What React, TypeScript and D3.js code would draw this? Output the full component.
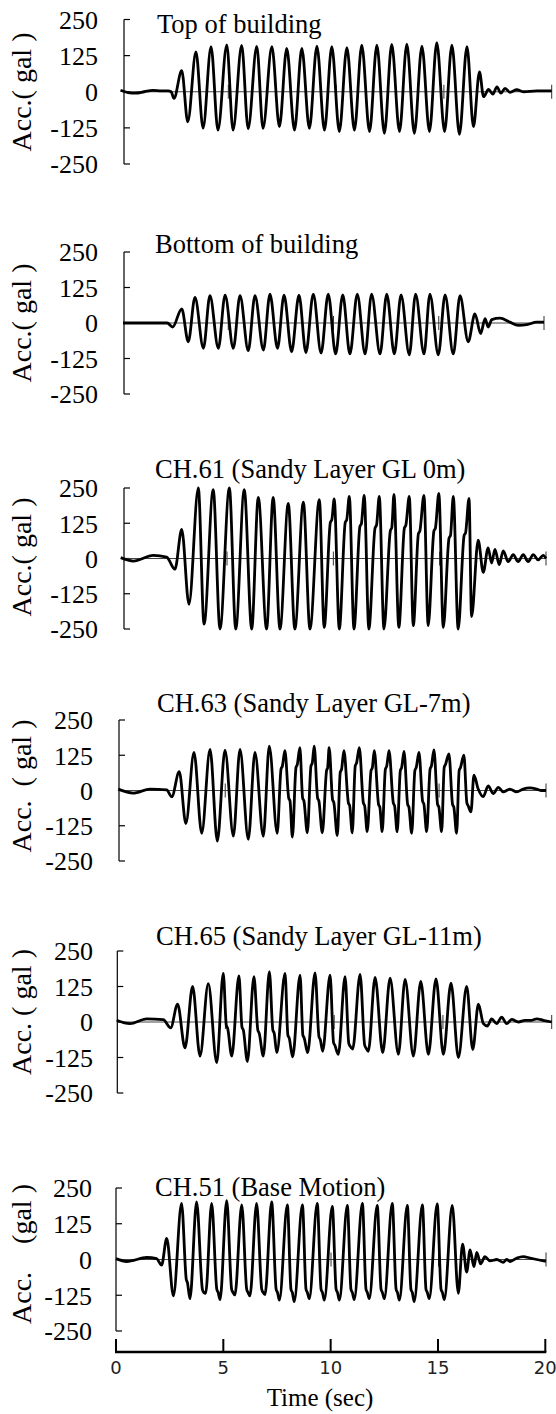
import * as d3 from "d3";

type Pt = [number, number];

const W = 556;
const H = 1414;

const yTicks = [250, 125, 0, -125, -250];
const timeTicks = [0, 5, 10, 15, 20];
const zeroLineTicks = [5, 10, 15, 20];

const titles = [
  "Top of building",
  "Bottom of building",
  "CH.61 (Sandy Layer GL 0m)",
  "CH.63 (Sandy Layer GL-7m)",
  "CH.65 (Sandy Layer GL-11m)",
  "CH.51 (Base Motion)",
];

const yLabels = [
  "Acc.( gal )",
  "Acc.( gal )",
  "Acc.( gal )",
  "Acc.\u00a0\u00a0( gal )",
  "Acc. ( gal )",
  "Acc.\u00a0\u00a0\u00a0\u00a0(gal )",
];

// [time (sec), acceleration (gal)]
const topOfBuilding: Pt[] = [
  [0, 5], [0.35, -3], [0.7, -5], [1.1, 0], [1.5, 5], [1.9, 3], [2.2, 3], [2.35, 0], [2.48, -23],
  [2.84, 73], [3.12, -104], [3.5, 138], [3.83, -126], [4.2, 156], [4.52, -133], [4.93, 162],
  [5.22, -133], [5.62, 160], [5.92, -128], [6.32, 157], [6.61, -127], [7.02, 156], [7.37, -121],
  [7.71, 150], [8.07, -133], [8.41, 150], [8.76, -127], [9.11, 158], [9.46, -133], [9.8, 156],
  [10.15, -138], [10.5, 153], [10.85, -133], [11.19, 161], [11.55, -138], [11.89, 161],
  [12.24, -144], [12.58, 164], [12.94, -138], [13.28, 165], [13.63, -144], [13.98, 158],
  [14.33, -138], [14.67, 170], [15.03, -138], [15.37, 161], [15.72, -147], [16.07, 156],
  [16.37, -121], [16.65, 69], [16.84, -17], [17.07, 8], [17.27, -8], [17.46, 17], [17.64, -5],
  [17.84, 12], [18.07, -2], [18.38, 7], [18.69, 0], [19.31, 3], [20, 3],
];

const bottomOfBuilding: Pt[] = [
  [0, 0], [2.1, 0], [2.36, -14], [2.79, 50], [3.1, -66], [3.42, 90], [3.82, -89], [4.13, 96],
  [4.53, -89], [4.85, 98], [5.24, -89], [5.56, 96], [5.95, -97], [6.27, 96], [6.67, -95],
  [6.98, 102], [7.34, -89], [7.65, 98], [8.01, -101], [8.36, 98], [8.69, -104], [9.04, 102],
  [9.41, -106], [9.75, 102], [10.1, -109], [10.44, 99], [10.78, -109], [11.13, 102],
  [11.5, -109], [11.81, 102], [12.21, -109], [12.53, 102], [12.89, -109], [13.21, 99],
  [13.6, -112], [13.9, 102], [14.3, -109], [14.58, 102], [14.98, -112], [15.3, 99],
  [15.69, -109], [16.01, 96], [16.4, -66], [16.72, 32], [16.99, -37], [17.2, 15], [17.35, -14],
  [17.52, 12], [17.91, 17], [18.38, 3], [18.78, -8], [19.18, -6], [19.65, 3], [20, 3],
];

const ch61: Pt[] = [
  [0, 3], [0.59, -9], [1.53, 11], [2.16, 5], [2.55, -38], [2.87, 103], [3.21, -162], [3.65, 250],
  [3.92, -233], [4.35, 244], [4.67, -250], [5.11, 250], [5.41, -250], [5.81, 244], [6.16, -250],
  [6.47, 217], [6.86, -250], [7.17, 217], [7.49, -250], [7.88, 195], [8.19, -250], [8.59, 200],
  [8.9, -250], [9.34, 209], [9.57, -244], [9.86, 128], [9.93, 138], [10.04, 211], [10.28, -250],
  [10.56, 128], [10.63, 138], [10.75, 220], [10.97, -250], [11.25, 114], [11.32, 124],
  [11.45, 224], [11.67, -250], [11.96, 108], [12.03, 118], [12.16, 220], [12.38, -250],
  [12.68, 98], [12.75, 110], [12.85, 227], [13.08, -244], [13.34, 108], [13.41, 118],
  [13.57, 220], [13.76, -238], [14.0, 88], [14.07, 98], [14.26, 224], [14.46, -238],
  [14.73, 98], [14.8, 108], [14.96, 231], [15.17, -244], [15.44, 72], [15.51, 82], [15.64, 220],
  [15.87, -250], [16.15, 82], [16.22, 92], [16.38, 213], [16.5, -206], [16.81, 65], [17.05, -49],
  [17.28, 38], [17.44, -16], [17.6, 32], [17.8, -22], [17.99, 27], [18.22, -11], [18.46, 14],
  [18.69, -11], [18.93, 14], [19.16, -11], [19.4, 14], [19.63, -5], [19.87, 11], [20, 0],
];

const ch63: Pt[] = [
  [0, 5], [0.7, -9], [1.48, 5], [2.26, 2], [2.5, -22], [2.85, 67], [3.16, -117], [3.54, 135],
  [3.9, -152], [4.29, 146], [4.63, -179], [4.99, 143], [5.38, -162], [5.69, 146], [6.08, -173],
  [6.39, 135], [6.78, -162], [7.06, 157], [7.43, -152], [7.61, 76], [7.67, 86], [7.79, 141],
  [7.97, -27], [8.03, -37], [8.14, -165], [8.31, 82], [8.37, 92], [8.49, 152], [8.62, -27],
  [8.68, -37], [8.84, -150], [9.01, 87], [9.07, 97], [9.16, 157], [9.32, -27], [9.38, -37],
  [9.54, -150], [9.74, 71], [9.79, 81], [9.86, 152], [10.02, -33], [10.08, -43], [10.24, -160],
  [10.38, 65], [10.44, 75], [10.55, 141], [10.76, -44], [10.82, -54], [10.94, -150],
  [11.08, 87], [11.14, 97], [11.27, 152], [11.46, -44], [11.52, -54], [11.64, -146],
  [11.82, 71], [11.88, 81], [11.97, 141], [12.17, -49], [12.23, -59], [12.34, -146],
  [12.49, 76], [12.55, 86], [12.66, 141], [12.86, -44], [12.92, -54], [13.04, -146],
  [13.19, 71], [13.25, 81], [13.36, 139], [13.53, -49], [13.59, -59], [13.72, -152],
  [13.87, 71], [13.93, 81], [14.06, 135], [14.23, -38], [14.29, -48], [14.42, -146],
  [14.58, 76], [14.64, 86], [14.76, 144], [14.93, -49], [14.99, -59], [15.12, -146],
  [15.24, 82], [15.3, 92], [15.46, 130], [15.63, -49], [15.69, -59], [15.82, -152],
  [15.94, 71], [16.0, 81], [16.16, 125], [16.3, -44], [16.36, -54], [16.49, -76], [16.63, 54],
  [16.83, 5], [17.06, -22], [17.3, 16], [17.53, -11], [17.77, 11], [18.0, -5], [18.31, 5],
  [18.63, -5], [18.93, 5], [19.25, 9], [19.56, 5], [19.79, 0], [20, 0],
];

const ch65: Pt[] = [
  [0, 6], [0.61, -6], [1.38, 11], [2.14, 8], [2.48, -21], [2.8, 63], [3.14, -91], [3.49, 125],
  [3.83, -120], [4.21, 135], [4.6, -143], [4.9, 171], [5.04, -12], [5.1, -22], [5.29, -120],
  [5.62, 162], [5.76, -18], [5.82, -28], [6.01, -139], [6.31, 160], [6.49, -29], [6.55, -39],
  [6.74, -120], [7.02, 177], [7.18, -29], [7.24, -39], [7.36, -108], [7.74, 171], [7.87, -46],
  [7.93, -56], [8.09, -123], [8.43, 165], [8.56, -46], [8.62, -56], [8.78, -108], [9.12, 173],
  [9.3, -52], [9.36, -62], [9.47, -103], [9.81, 165], [9.97, -72], [10.03, -82], [10.19, -114],
  [10.5, 160], [10.67, -75], [10.73, -85], [10.85, -95], [11.19, 168], [11.4, -81], [11.46, -91],
  [11.57, -103], [11.88, 157], [12.23, -108], [12.57, 154], [12.95, -114], [13.26, 150],
  [13.64, -120], [13.98, 143], [14.33, -114], [14.68, 152], [15.02, -114], [15.37, 137],
  [15.71, -125], [16.09, 125], [16.37, -97], [16.63, 63], [16.86, -6], [17.04, -14], [17.24, 11],
  [17.47, -6], [17.7, 17], [17.93, -6], [18.16, 9], [18.47, 0], [18.77, 6], [19.08, 6],
  [19.31, 11], [19.61, 6], [20, 0],
];

const ch51: Pt[] = [
  [0, 3], [0.5, -7], [1.43, 7], [1.89, 3], [2.12, -20], [2.36, 74], [2.67, -127], [3.05, 196],
  [3.27, -70], [3.32, -80], [3.44, -137], [3.75, 201], [4.02, -105], [4.08, -115], [4.17, -118],
  [4.45, 196], [4.69, -105], [4.75, -115], [4.84, -140], [5.15, 206], [5.38, -105], [5.44, -115],
  [5.53, -124], [5.85, 191], [6.08, -105], [6.14, -115], [6.23, -127], [6.54, 196], [6.78, -105],
  [6.84, -115], [6.93, -123], [7.24, 201], [7.45, -105], [7.51, -115], [7.6, -142], [7.97, 191],
  [8.14, -105], [8.2, -115], [8.29, -147], [8.67, 191], [8.84, -105], [8.9, -115], [8.99, -137],
  [9.36, 196], [9.54, -105], [9.6, -115], [9.69, -142], [10.06, 186], [10.24, -105],
  [10.3, -115], [10.39, -142], [10.76, 189], [10.93, -105], [10.99, -115], [11.08, -140],
  [11.46, 196], [11.63, -105], [11.69, -115], [11.78, -137], [12.15, 189], [12.33, -105],
  [12.39, -115], [12.48, -137], [12.85, 196], [13.03, -105], [13.09, -115], [13.18, -142],
  [13.55, 189], [13.72, -105], [13.78, -115], [13.87, -147], [14.25, 191], [14.42, -105],
  [14.48, -115], [14.57, -137], [14.94, 194], [15.12, -105], [15.18, -115], [15.27, -140],
  [15.64, 189], [15.92, -118], [16.12, 54], [16.31, -44], [16.47, 34], [16.65, -25], [16.78, 25],
  [16.96, -15], [17.16, 10], [17.4, -5], [17.71, 0], [18.01, -10], [18.17, 0], [18.33, -7],
  [18.64, 5], [18.94, 10], [19.26, 5], [19.57, 0], [20, -7],
];

const series = [topOfBuilding, bottomOfBuilding, ch61, ch63, ch65, ch51];

// pixel placement of each stacked panel
const layout = [
  { top: 19.5, bottom: 164, x0: 120.5, x1: 551.7, axisX: 124, titleX: 157, titleY: 33, labelY: 92, tickRight: 98 },
  { top: 252, bottom: 394, x0: 123, x1: 544, axisX: 124, titleX: 155, titleY: 253, labelY: 323, tickRight: 98 },
  { top: 488, bottom: 629, x0: 120.7, x1: 546, axisX: 124, titleX: 155, titleY: 478, labelY: 557, tickRight: 98 },
  { top: 720, bottom: 861, x0: 118.3, x1: 546, axisX: 119, titleX: 157, titleY: 712, labelY: 786, tickRight: 93 },
  { top: 951, bottom: 1093, x0: 116.7, x1: 551.7, axisX: 117.3, titleX: 156, titleY: 945, labelY: 1012, tickRight: 93 },
  { top: 1188, bottom: 1331, x0: 116, x1: 546, axisX: 116, titleX: 155, titleY: 1196, labelY: 1254, tickRight: 92 },
];

const serif = "Liberation Serif, Times New Roman, serif";

export default function App() {
  const timeScale = d3.scaleLinear().domain([0, 20]).range([116, 545.3]);
  const axisY = 1352;

  return (
    <svg
      width={W}
      height={H}
      style={{ position: "absolute", left: 0, top: 0, background: "#fff" }}
    >
      {series.map((data, i) => {
        const p = layout[i];
        const x = d3.scaleLinear().domain([0, 20]).range([p.x0, p.x1]);
        const y = d3.scaleLinear().domain([-250, 250]).range([p.bottom, p.top]);
        const line = d3
          .line<Pt>()
          .x((d) => x(d[0]))
          .y((d) => y(d[1]))
          .curve(d3.curveMonotoneX);
        return (
          <g key={i} fontFamily={serif}>
            <line x1={p.axisX} x2={p.axisX} y1={y(250)} y2={y(-250)} stroke="#000" strokeWidth={1.2} />
            {yTicks.map((v) => (
              <line key={v} x1={p.axisX} x2={p.axisX + 6} y1={y(v)} y2={y(v)} stroke="#000" strokeWidth={1.2} />
            ))}
            {yTicks.map((v) => (
              <text key={v} x={p.tickRight} y={y(v)} dy="0.36em" textAnchor="end" fontSize={26}>
                {v}
              </text>
            ))}
            <line x1={p.axisX} x2={x(20)} y1={y(0)} y2={y(0)} stroke="#444" strokeWidth={1} />
            {zeroLineTicks.map((t) => (
              <line key={t} x1={x(t)} x2={x(t)} y1={y(0) - 7} y2={y(0) + 7} stroke="#333" strokeWidth={1} />
            ))}
            <path d={line(data) ?? ""} fill="none" stroke="#000" strokeWidth={2.8} strokeLinejoin="round" />
            <text x={p.titleX} y={p.titleY} fontSize={26.5}>
              {titles[i]}
            </text>
            <text
              transform={`translate(31,${p.labelY}) rotate(-90)`}
              textAnchor="middle"
              fontSize={28}
            >
              {yLabels[i]}
            </text>
          </g>
        );
      })}

      <line x1={timeScale(0) - 1} x2={timeScale(20) + 1} y1={axisY} y2={axisY} stroke="#000" strokeWidth={2.5} />
      {timeTicks.map((t) => (
        <g key={t}>
          <line x1={timeScale(t)} x2={timeScale(t)} y1={axisY} y2={axisY - 13} stroke="#000" strokeWidth={2} />
          <text
            x={timeScale(t)}
            y={axisY + 16}
            dy="0.36em"
            textAnchor="middle"
            fontSize={18}
            fontFamily="DejaVu Sans, sans-serif"
            fill="#222"
          >
            {t}
          </text>
        </g>
      ))}
      <text x={320} y={1406} textAnchor="middle" fontSize={25} fontFamily={serif}>
        Time (sec)
      </text>
    </svg>
  );
}
